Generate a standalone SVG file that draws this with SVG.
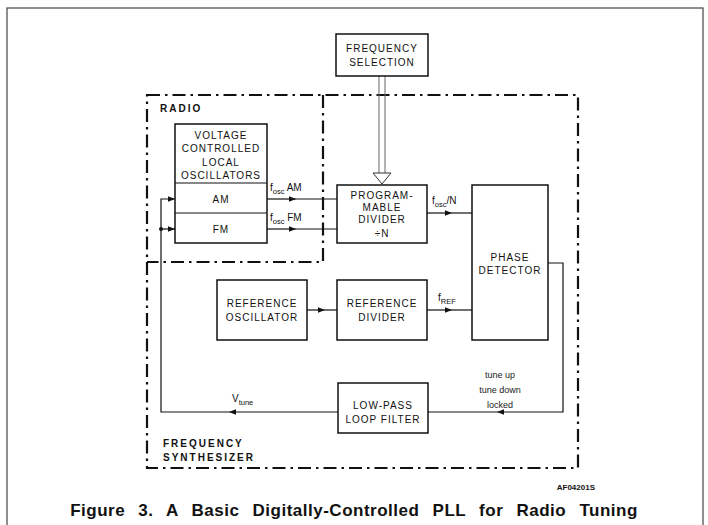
<svg xmlns="http://www.w3.org/2000/svg" width="708" height="525" viewBox="0 0 708 525">
<defs>
<marker id="ah" viewBox="0 0 10 10" refX="10" refY="5" markerWidth="7" markerHeight="7" markerUnits="userSpaceOnUse" orient="auto">
<path d="M0,1 L10,5 L0,9 Z" fill="#111"/>
</marker>
</defs>
<style>
.box{fill:#fff;stroke:#111;stroke-width:1.5}
.t{font-family:"Liberation Sans",Arial,sans-serif;font-size:10px;letter-spacing:1px;fill:#111;text-anchor:middle}
.lbl{font-family:"Liberation Sans",Arial,sans-serif;font-size:10px;fill:#111}
.sub{font-size:7.5px}
.grp{font-family:"Liberation Sans",Arial,sans-serif;font-size:10px;font-weight:bold;letter-spacing:2px;fill:#111}
.dd{fill:none;stroke:#111;stroke-width:2.2;stroke-dasharray:13 5 2.5 5}
.ln{fill:none;stroke:#111;stroke-width:1.2}
.small{font-family:"Liberation Sans",Arial,sans-serif;font-size:9px;fill:#222;text-anchor:middle}
</style>
<rect x="7" y="8" width="696" height="530" fill="none" stroke="#444" stroke-width="1.2"/>

<g id="synthesizer-frame">
<rect class="dd" x="147" y="95" width="431" height="373"/>
<text class="grp" x="163" y="447">FREQUENCY</text>
<text class="grp" x="163" y="461">SYNTHESIZER</text>
</g>
<g id="radio-frame">
<path class="dd" d="M323,95 V262 H147"/>
<text class="grp" x="160" y="112">RADIO</text>
</g>

<g id="connectors">
<line x1="379" y1="76" x2="379" y2="173" stroke="#666" stroke-width="1"/>
<line x1="385" y1="76" x2="385" y2="173" stroke="#666" stroke-width="1"/>
<path d="M373,173 H391 L382,184 Z" fill="#fff" stroke="#333" stroke-width="1"/>
<path class="ln" d="M267,199 H296" marker-end="url(#ah)"/><path class="ln" d="M296,199 H337"/>
<path class="ln" d="M267,229 H296" marker-end="url(#ah)"/><path class="ln" d="M296,229 H337"/>
<path class="ln" d="M427,213 H452" marker-end="url(#ah)"/><path class="ln" d="M452,213 H472"/>
<path class="ln" d="M307,310 H325" marker-end="url(#ah)"/><path class="ln" d="M325,310 H337"/>
<path class="ln" d="M427,310 H452" marker-end="url(#ah)"/><path class="ln" d="M452,310 H472"/>
<path class="ln" d="M548,263 H563 V412 H497" marker-end="url(#ah)"/><path class="ln" d="M497,412 H428"/>
<path class="ln" d="M338,412 H229" marker-end="url(#ah)"/><path class="ln" d="M229,412 H161 V199 H175" marker-end="url(#ah)"/>
<path class="ln" d="M161,229 H175" marker-end="url(#ah)"/>
<circle cx="161" cy="229" r="2" fill="#111"/>
<text class="lbl" x="270" y="191">f<tspan class="sub" dy="2.5">osc</tspan><tspan dy="-2.5"> AM</tspan></text>
<text class="lbl" x="270" y="221">f<tspan class="sub" dy="2.5">osc</tspan><tspan dy="-2.5"> FM</tspan></text>
<text class="lbl" x="432" y="204">f<tspan class="sub" dy="2.5">osc</tspan><tspan dy="-2.5">/N</tspan></text>
<text class="lbl" x="438" y="301">f<tspan class="sub" dy="2.5">REF</tspan></text>
<text class="lbl" x="232" y="402">V<tspan class="sub" dy="2.5">tune</tspan></text>
<text class="small" x="500" y="378">tune up</text>
<text class="small" x="500" y="393">tune down</text>
<text class="small" x="500" y="408">locked</text>
</g>

<g id="frequency-selection">
<rect class="box" x="336" y="34" width="92" height="42"/>
<text class="t" x="382" y="52">FREQUENCY</text>
<text class="t" x="382" y="66">SELECTION</text>
</g>
<g id="vco">
<rect class="box" x="175" y="124" width="92" height="119"/>
<line class="ln" x1="175" y1="183" x2="267" y2="183"/>
<line class="ln" x1="175" y1="213" x2="267" y2="213"/>
<text class="t" x="221" y="139">VOLTAGE</text>
<text class="t" x="221" y="152">CONTROLLED</text>
<text class="t" x="221" y="166">LOCAL</text>
<text class="t" x="221" y="179">OSCILLATORS</text>
<text class="t" x="221" y="203">AM</text>
<text class="t" x="221" y="233">FM</text>
</g>
<g id="programmable-divider">
<rect class="box" x="337" y="185" width="90" height="58"/>
<text class="t" x="382" y="199">PROGRAM-</text>
<text class="t" x="382" y="211">MABLE</text>
<text class="t" x="382" y="223">DIVIDER</text>
<text class="t" x="382" y="237">÷N</text>
</g>
<g id="phase-detector">
<rect class="box" x="472" y="185" width="76" height="155"/>
<text class="t" x="510" y="261">PHASE</text>
<text class="t" x="510" y="274">DETECTOR</text>
</g>
<g id="reference-oscillator">
<rect class="box" x="217" y="280" width="90" height="60"/>
<text class="t" x="262" y="307">REFERENCE</text>
<text class="t" x="262" y="321">OSCILLATOR</text>
</g>
<g id="reference-divider">
<rect class="box" x="337" y="280" width="90" height="60"/>
<text class="t" x="382" y="307">REFERENCE</text>
<text class="t" x="382" y="321">DIVIDER</text>
</g>
<g id="low-pass-filter">
<rect class="box" x="338" y="383" width="90" height="50"/>
<text class="t" x="383" y="409">LOW-PASS</text>
<text class="t" x="383" y="423">LOOP FILTER</text>
</g>

<text x="595" y="490" font-family="'Liberation Sans',Arial,sans-serif" font-size="8" font-weight="bold" text-anchor="end" fill="#111">AF04201S</text>
<text x="354" y="516" font-family="'Liberation Sans',Arial,sans-serif" font-size="17" font-weight="bold" letter-spacing="0.5" word-spacing="8" text-anchor="middle" fill="#111">Figure 3. A Basic Digitally-Controlled PLL for Radio Tuning</text>
</svg>
